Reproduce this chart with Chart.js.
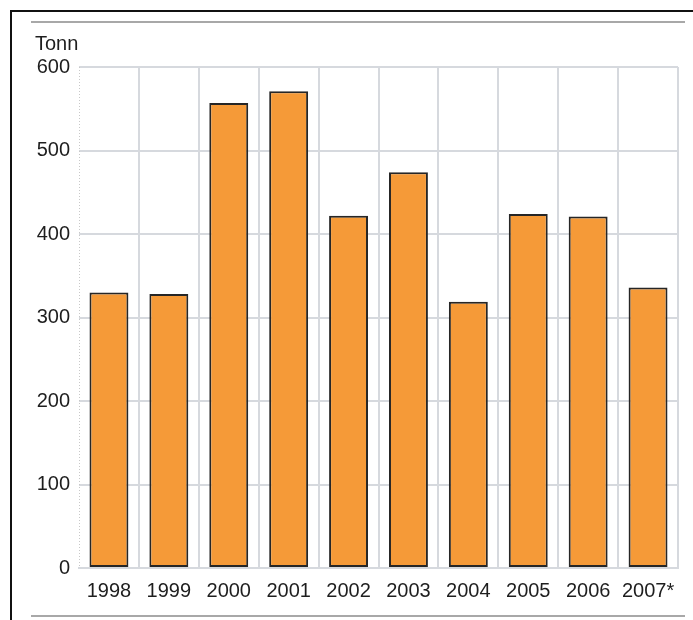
<!DOCTYPE html>
<html>
<head>
<meta charset="utf-8">
<script src="https://cdn.jsdelivr.net/npm/chart.js@4.4.1/dist/chart.umd.min.js"></script>
<style>
  html, body { margin: 0; padding: 0; background: #ffffff; }
  #wrap { width: 693px; height: 620px; position: relative; }
</style>
</head>
<body>
<div id="wrap"><canvas id="c" width="693" height="620"></canvas></div>
<script>
// Annual tonnage, 1998–2007 (2007 provisional)
const years = ['1998', '1999', '2000', '2001', '2002', '2003', '2004', '2005', '2006', '2007*'];
const tonnes = [330, 328, 557, 571, 422, 474, 319, 424, 421, 336];
const yTicks = [0, 100, 200, 300, 400, 500, 600];
const unitLabel = 'Tonn';

const FONT = '"Liberation Sans", Arial, Helvetica, sans-serif';
const TEXT = '#1e1e1e';
const GRID = '#d6d9de';
const FONT_SIZE = 20;

// Frame, rules, dotted left axis edge and unit label drawn around the plot
const framePlugin = {
  id: 'frame',
  beforeDraw(chart) {
    const ctx = chart.ctx;
    ctx.save();
    ctx.fillStyle = '#ffffff';
    ctx.fillRect(0, 0, chart.width, chart.height);
    ctx.restore();
  },
  afterDraw(chart) {
    const ctx = chart.ctx;
    const area = chart.chartArea;
    ctx.save();
    // dotted left edge of the plot
    ctx.strokeStyle = '#c8c8c8';
    ctx.lineWidth = 1;
    ctx.setLineDash([1, 2]);
    ctx.beginPath();
    ctx.moveTo(area.left + 0.5, area.top);
    ctx.lineTo(area.left + 0.5, area.bottom);
    ctx.stroke();
    ctx.setLineDash([]);
    // outer black frame (left and top edges)
    ctx.strokeStyle = '#111111';
    ctx.lineWidth = 2;
    ctx.beginPath();
    ctx.moveTo(11, chart.height);
    ctx.lineTo(11, 11);
    ctx.lineTo(chart.width, 11);
    ctx.stroke();
    // grey rules above and below
    ctx.strokeStyle = '#a8a8a8';
    ctx.lineWidth = 2;
    ctx.beginPath();
    ctx.moveTo(31, 22);
    ctx.lineTo(685, 22);
    ctx.moveTo(31, 616);
    ctx.lineTo(685, 616);
    ctx.stroke();
    // unit label
    ctx.fillStyle = TEXT;
    ctx.font = FONT_SIZE + 'px ' + FONT;
    ctx.textBaseline = 'middle';
    ctx.textAlign = 'left';
    ctx.fillText(unitLabel, 35, 44);
    ctx.restore();
  }
};

new Chart(document.getElementById('c'), {
  type: 'bar',
  data: {
    labels: years,
    datasets: [{
      data: tonnes,
      backgroundColor: '#f59a38',
      borderColor: '#262626',
      borderWidth: 2,
      borderSkipped: false,
      barPercentage: 0.65,
      categoryPercentage: 1.0
    }]
  },
  options: {
    responsive: false,
    animation: false,
    devicePixelRatio: 1,
    layout: { padding: { top: 67, right: 15, left: 0, bottom: 0 } },
    plugins: { legend: { display: false }, tooltip: { enabled: false } },
    scales: {
      x: {
        offset: true,
        grid: {
          offset: true,
          drawTicks: false,
          color: (c) => (c.index === 0 ? 'rgba(0,0,0,0)' : GRID),
          lineWidth: 2
        },
        border: { display: true, color: GRID, width: 2 },
        ticks: {
          padding: 11,
          color: TEXT,
          font: { family: FONT, size: FONT_SIZE },
          maxRotation: 0,
          autoSkip: false
        },
        afterFit(scale) { scale.height = 52; }
      },
      y: {
        min: 0,
        max: 600,
        afterBuildTicks(scale) { scale.ticks = yTicks.map(v => ({ value: v })); },
        grid: { drawTicks: false, color: GRID, lineWidth: 2 },
        border: { display: false },
        ticks: {
          padding: 9,
          color: TEXT,
          font: { family: FONT, size: FONT_SIZE }
        },
        afterFit(scale) { scale.width = 79; }
      }
    }
  },
  plugins: [framePlugin]
});
</script>
</body>
</html>
